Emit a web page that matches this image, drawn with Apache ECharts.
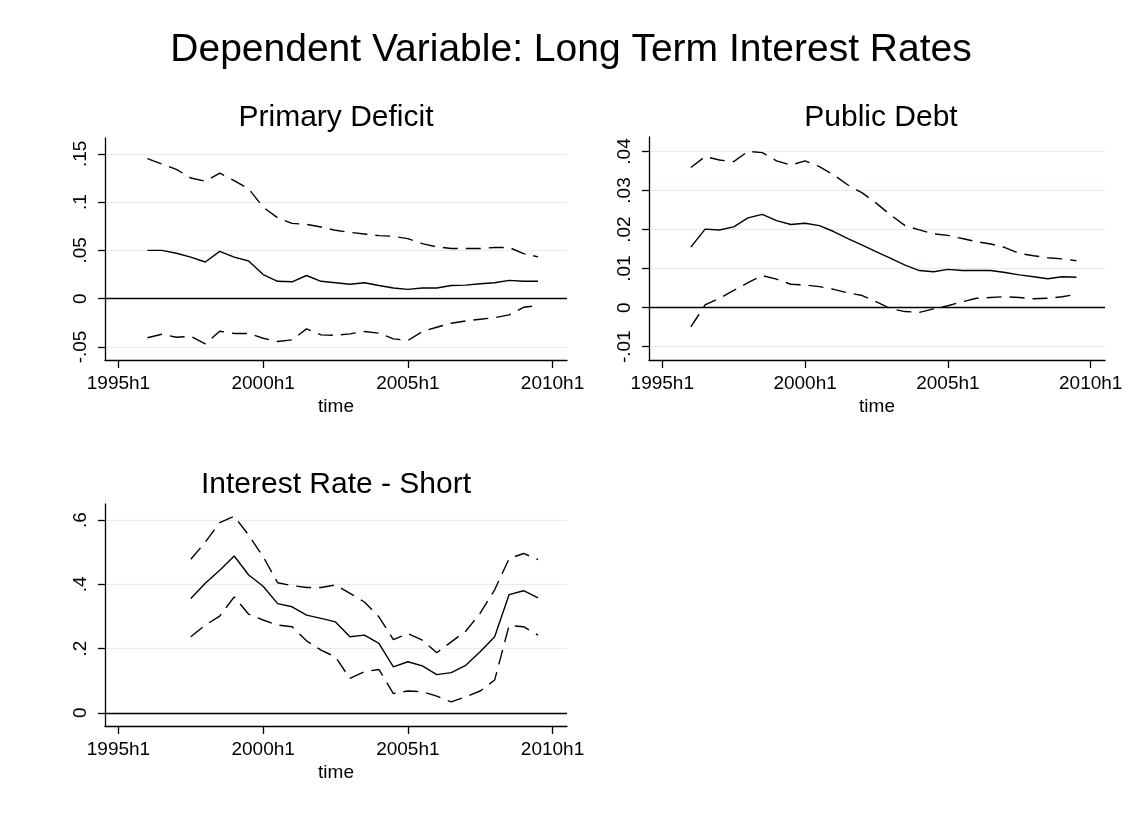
<!DOCTYPE html>
<html lang="en">
<head>
    <meta charset="UTF-8">
    <title>Dependent Variable: Long Term Interest Rates</title>
    <script src="https://cdn.jsdelivr.net/npm/echarts@6.0.0/dist/echarts.min.js"></script>
    <style>
        html, body { margin: 0; padding: 0; background: #fff; }
        #chart { width: 1134px; height: 817px; }
    </style>
</head>
<body>
    <div id="chart"></div>
    <script>
        // half-year periods (Stata style labels)
        var periodsLong = ['1996h1', '1996h2', '1997h1', '1997h2', '1998h1', '1998h2', '1999h1', '1999h2',
            '2000h1', '2000h2', '2001h1', '2001h2', '2002h1', '2002h2', '2003h1', '2003h2',
            '2004h1', '2004h2', '2005h1', '2005h2', '2006h1', '2006h2', '2007h1', '2007h2',
            '2008h1', '2008h2', '2009h1', '2009h2'];
        var periodsShort = periodsLong.slice(3);   // 1997h2 .. 2009h2
        var xTicks = ['1995h1', '2000h1', '2005h1', '2010h1'];

        // Primary Deficit
        var deficitCoef = [0.050, 0.050, 0.047, 0.043, 0.038, 0.049, 0.043, 0.039, 0.025, 0.018,
            0.0175, 0.024, 0.018, 0.0165, 0.015, 0.0165, 0.0137, 0.011, 0.0096, 0.011,
            0.011, 0.0137, 0.014, 0.0155, 0.0165, 0.019, 0.018, 0.018];
        var deficitUpper = [0.145, 0.1395, 0.134, 0.125, 0.1216, 0.130, 0.1223, 0.1137, 0.0948, 0.0838,
            0.078, 0.077, 0.0742, 0.0708, 0.0687, 0.067, 0.0653, 0.0646, 0.0622, 0.057,
            0.0536, 0.052, 0.052, 0.052, 0.053, 0.053, 0.0467, 0.0433];
        var deficitLower = [-0.0405, -0.0368, -0.040, -0.039, -0.0467, -0.0337, -0.036, -0.036, -0.041, -0.0443,
            -0.0426, -0.0313, -0.0375, -0.038, -0.0364, -0.034, -0.0357, -0.0416, -0.0433, -0.034,
            -0.0296, -0.0254, -0.023, -0.0213, -0.0196, -0.0168, -0.0089, -0.0072];
        var deficitTicks = [-0.05, 0, 0.05, 0.1, 0.15];

        // Public Debt
        var debtCoef = [0.0155, 0.0201, 0.0199, 0.0207, 0.023, 0.0239, 0.0223, 0.0213, 0.0216, 0.021,
            0.0195, 0.0177, 0.016, 0.0143, 0.0126, 0.0109, 0.0095, 0.0092, 0.0098, 0.0095,
            0.0095, 0.0095, 0.009, 0.0084, 0.0079, 0.0074, 0.0079, 0.0078];
        var debtUpper = [0.0359, 0.0387, 0.0378, 0.0374, 0.040, 0.0397, 0.0376, 0.0365, 0.0376, 0.0361,
            0.034, 0.0314, 0.0294, 0.0267, 0.0237, 0.021, 0.0199, 0.0189, 0.0185, 0.0177,
            0.0169, 0.0163, 0.0154, 0.0139, 0.0133, 0.0128, 0.0125, 0.012];
        var debtLower = [-0.0049, 0.0007, 0.0024, 0.0044, 0.0064, 0.0082, 0.0073, 0.006, 0.0058, 0.0054,
            0.0047, 0.0038, 0.0031, 0.0015, -0.0003, -0.001, -0.0012, -0.0003, 0.0005, 0.0015,
            0.0024, 0.0026, 0.0028, 0.0026, 0.0023, 0.0024, 0.0028, 0.0034];
        var debtTicks = [-0.01, 0, 0.01, 0.02, 0.03, 0.04];

        // Interest Rate - Short
        var shortCoef = [0.356, 0.403, 0.444, 0.488, 0.429, 0.394, 0.34, 0.33, 0.304, 0.294,
            0.283, 0.237, 0.242, 0.216, 0.143, 0.159, 0.146, 0.119, 0.125, 0.148,
            0.19, 0.237, 0.368, 0.38, 0.358];
        var shortUpper = [0.478, 0.531, 0.592, 0.612, 0.553, 0.486, 0.405, 0.396, 0.39, 0.39,
            0.398, 0.372, 0.345, 0.299, 0.228, 0.247, 0.226, 0.187, 0.221, 0.254,
            0.31, 0.383, 0.48, 0.496, 0.477];
        var shortLower = [0.237, 0.273, 0.301, 0.361, 0.307, 0.289, 0.273, 0.268, 0.224, 0.195,
            0.174, 0.107, 0.128, 0.135, 0.06, 0.068, 0.066, 0.052, 0.034, 0.05,
            0.068, 0.102, 0.272, 0.268, 0.242];
        var shortTicks = [0, 0.2, 0.4, 0.6];

        var FONT = "'Liberation Sans', Arial, sans-serif";

        // '1996h2' -> half-years since 1995h1
        function toIndex(p) {
            var y = parseInt(p.slice(0, 4), 10);
            var h = parseInt(p.slice(5), 10);
            return (y - 1995) * 2 + (h - 1);
        }
        function toLabel(v) {
            var k = Math.round(v);
            return (1995 + Math.floor(k / 2)) + 'h' + (k % 2 + 1);
        }
        // stata style: .05, -.05, 0
        function yLabel(v) {
            return String(+v.toFixed(4)).replace(/^(-?)0\./, '$1.');
        }
        function pairs(periods, values) {
            return periods.map(function (p, i) { return [toIndex(p), values[i]]; });
        }

        var xTickIdx = xTicks.map(toIndex);

        function makeX(gi) {
            return {
                type: 'value', gridIndex: gi, min: -0.93, max: 31,
                name: 'time', nameLocation: 'middle', nameGap: 37,
                nameTextStyle: { color: '#000', fontSize: 19, fontFamily: FONT },
                axisLine: { onZero: false, lineStyle: { color: '#000', width: 1.3 } },
                axisTick: { show: true, length: 8, lineStyle: { color: '#000', width: 1.3 }, customValues: xTickIdx },
                axisLabel: { color: '#000', fontSize: 19, fontFamily: FONT, margin: 14, customValues: xTickIdx, formatter: toLabel },
                splitLine: { show: false }
            };
        }
        function makeY(gi, min, max, ticks) {
            return {
                type: 'value', gridIndex: gi, min: min, max: max,
                axisLine: { show: true, onZero: false, lineStyle: { color: '#000', width: 1.3 } },
                axisTick: { show: true, length: 7, lineStyle: { color: '#000', width: 1.3 }, customValues: ticks },
                axisLabel: { color: '#000', fontSize: 19, fontFamily: FONT, rotate: 90, margin: 15, customValues: ticks, formatter: yLabel },
                splitLine: { show: true, lineStyle: { color: '#e4edf1', width: 1.2 } }
            };
        }
        function lines(gi, periods, coef, upper, lower) {
            var base = { type: 'line', xAxisIndex: gi, yAxisIndex: gi, showSymbol: false, silent: true };
            return [
                Object.assign({}, base, {
                    data: pairs(periods, coef),
                    lineStyle: { color: '#000', width: 1.4 },
                    markLine: {
                        silent: true, symbol: 'none', label: { show: false },
                        lineStyle: { color: '#000', width: 1.4, type: 'solid' },
                        data: [{ yAxis: 0 }]
                    }
                }),
                Object.assign({}, base, { data: pairs(periods, upper), lineStyle: { color: '#000', width: 1.4, type: [15, 8] } }),
                Object.assign({}, base, { data: pairs(periods, lower), lineStyle: { color: '#000', width: 1.4, type: [15, 8] } })
            ];
        }

        var myChart = echarts.init(document.getElementById('chart'));
        var option = {
            backgroundColor: '#fff',
            animation: false,
            title: [
                { text: 'Dependent Variable: Long Term Interest Rates', left: 566, top: 26, textAlign: 'center',
                  textStyle: { fontSize: 39, fontWeight: 'normal', color: '#000', fontFamily: FONT } },
                { text: 'Primary Deficit', left: 331, top: 98, textAlign: 'center',
                  textStyle: { fontSize: 30, fontWeight: 'normal', color: '#000', fontFamily: FONT } },
                { text: 'Public Debt', left: 876, top: 98, textAlign: 'center',
                  textStyle: { fontSize: 30, fontWeight: 'normal', color: '#000', fontFamily: FONT } },
                { text: 'Interest Rate - Short', left: 331, top: 465, textAlign: 'center',
                  textStyle: { fontSize: 30, fontWeight: 'normal', color: '#000', fontFamily: FONT } }
            ],
            grid: [
                { left: 105, top: 138, width: 462, height: 222 },
                { left: 649, top: 137, width: 456, height: 223 },
                { left: 105, top: 504, width: 462, height: 222 }
            ],
            xAxis: [makeX(0), makeX(1), makeX(2)],
            yAxis: [
                makeY(0, -0.0635, 0.1664, deficitTicks),
                makeY(1, -0.0134, 0.0437, debtTicks),
                makeY(2, -0.041, 0.65, shortTicks)
            ],
            series: [].concat(
                lines(0, periodsLong, deficitCoef, deficitUpper, deficitLower),
                lines(1, periodsLong, debtCoef, debtUpper, debtLower),
                lines(2, periodsShort, shortCoef, shortUpper, shortLower)
            )
        };
        myChart.setOption(option);
    </script>
</body>
</html>
